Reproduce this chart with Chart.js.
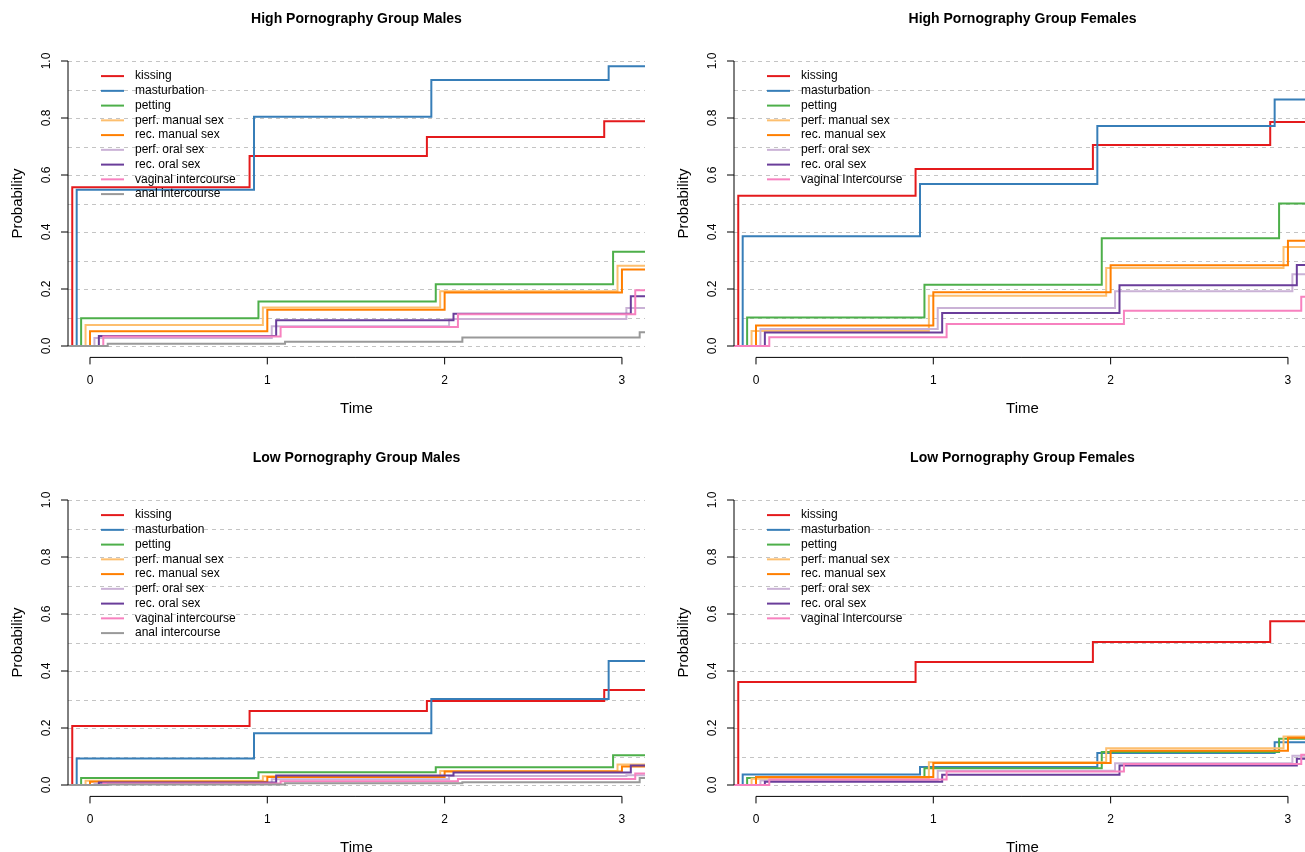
<!DOCTYPE html>
<html><head><meta charset="utf-8">
<script src="https://cdn.jsdelivr.net/npm/chart.js@4.4.1/dist/chart.umd.min.js"></script>
<style>
html,body{margin:0;padding:0;background:#fff;overflow:hidden;width:1305px;height:852px;}
.panel{position:absolute;width:666px;height:439px;}
canvas{display:block;}
</style></head><body>
<div class="panel" style="left:0;top:0"><canvas id="c0" width="666" height="439"></canvas></div>
<div class="panel" style="left:666px;top:0"><canvas id="c1" width="666" height="439"></canvas></div>
<div class="panel" style="left:0;top:439px"><canvas id="c2" width="666" height="439"></canvas></div>
<div class="panel" style="left:666px;top:439px"><canvas id="c3" width="666" height="439"></canvas></div>
<script>
// ---- data ----
const panelTitles = ["High Pornography Group Males","High Pornography Group Females","Low Pornography Group Males","Low Pornography Group Females"];
const maleLabels = ["kissing","masturbation","petting","perf. manual sex","rec. manual sex","perf. oral sex","rec. oral sex","vaginal intercourse","anal intercourse"];
const femaleLabels = ["kissing","masturbation","petting","perf. manual sex","rec. manual sex","perf. oral sex","rec. oral sex","vaginal Intercourse"];
const seriesColors = ["#E41A1C","#377EB8","#4DAF4A","#FDBF6F","#FF7F00","#CAB2D6","#6A3D9A","#F781BF","#999999"];
const timePoints = [0,1,2,3];
const seriesOffsets = [-0.1,-0.075,-0.05,-0.025,0,0.025,0.05,0.075,0.1];
const xTicks = [0,1,2,3];
const yTicks = [0,0.2,0.4,0.6,0.8,1.0];
const yTickLabels = ["0.0","0.2","0.4","0.6","0.8","1.0"];
const gridLevels = [0,0.1,0.2,0.3,0.4,0.5,0.6,0.7,0.8,0.9,1.0];
const xMin = -0.124, xMax = 3.13, yMin = -0.04, yMax = 1.04;

const highMales = [
  [0.557,0.667,0.733,0.789],
  [0.548,0.804,0.933,0.982],
  [0.097,0.156,0.217,0.331],
  [0.074,0.135,0.192,0.282],
  [0.052,0.127,0.188,0.268],
  [0.028,0.069,0.095,0.133],
  [0.035,0.090,0.113,0.175],
  [0.033,0.067,0.111,0.196],
  [0.008,0.015,0.030,0.048]
];
const highFemales = [
  [0.527,0.621,0.705,0.786],
  [0.385,0.568,0.772,0.865],
  [0.100,0.215,0.378,0.500],
  [0.053,0.176,0.274,0.347],
  [0.072,0.189,0.283,0.369],
  [0.060,0.133,0.192,0.252],
  [0.047,0.116,0.213,0.284],
  [0.031,0.077,0.124,0.173]
];
const lowMales = [
  [0.207,0.260,0.295,0.333],
  [0.093,0.182,0.302,0.435],
  [0.025,0.045,0.062,0.104],
  [0.015,0.031,0.049,0.072],
  [0.011,0.028,0.047,0.065],
  [0.005,0.020,0.032,0.034],
  [0.009,0.033,0.044,0.068],
  [0.005,0.013,0.021,0.040],
  [0.002,0.006,0.010,0.025]
];
const lowFemales = [
  [0.361,0.432,0.502,0.575],
  [0.037,0.063,0.112,0.150],
  [0.025,0.059,0.116,0.162],
  [0.022,0.080,0.129,0.170],
  [0.028,0.077,0.120,0.166],
  [0.016,0.050,0.076,0.103],
  [0.011,0.036,0.068,0.092],
  [0.019,0.047,0.074,0.106]
];

const FONT = '"Liberation Sans", Arial, Helvetica, sans-serif';

const rStyle = {
  id: 'rStyle',
  beforeDatasetsDraw(chart) {
    const {ctx, chartArea: a, scales: {y}} = chart;
    ctx.save();
    ctx.strokeStyle = '#c4c4c4'; ctx.lineWidth = 1; ctx.setLineDash([4,4]);
    for (const g of gridLevels) {
      const p = Math.round(y.getPixelForValue(g)) + 0.5;
      ctx.beginPath(); ctx.moveTo(a.left, p); ctx.lineTo(a.right, p); ctx.stroke();
    }
    ctx.restore();
  },
  afterDraw(chart, args, opts) {
    const {ctx, chartArea: a, scales: {x, y}} = chart;
    ctx.save();
    ctx.setLineDash([]);
    ctx.strokeStyle = '#000'; ctx.fillStyle = '#000'; ctx.lineWidth = 1;
    // y axis
    ctx.beginPath();
    ctx.moveTo(a.left, y.getPixelForValue(yTicks[0]));
    ctx.lineTo(a.left, y.getPixelForValue(yTicks[yTicks.length-1]));
    for (const v of yTicks) { const p = y.getPixelForValue(v); ctx.moveTo(a.left, p); ctx.lineTo(a.left-7, p); }
    // x axis
    const xb = a.bottom;
    ctx.moveTo(x.getPixelForValue(xTicks[0]), xb);
    ctx.lineTo(x.getPixelForValue(xTicks[xTicks.length-1]), xb);
    for (const v of xTicks) { const p = x.getPixelForValue(v); ctx.moveTo(p, xb); ctx.lineTo(p, xb+7); }
    ctx.stroke();
    ctx.font = '12px ' + FONT; ctx.textAlign = 'center'; ctx.textBaseline = 'middle';
    yTicks.forEach((v, i) => {
      const p = y.getPixelForValue(v);
      ctx.save(); ctx.translate(a.left-21, p); ctx.rotate(-Math.PI/2); ctx.fillText(yTickLabels[i], 0, 0); ctx.restore();
    });
    xTicks.forEach(v => ctx.fillText(String(v), x.getPixelForValue(v), xb+23));
    // axis titles
    ctx.font = '15px ' + FONT;
    const cx = (a.left + a.right) / 2;
    ctx.fillText('Time', cx, xb + 51);
    ctx.save(); ctx.translate(a.left-50, (a.top + a.bottom)/2); ctx.rotate(-Math.PI/2); ctx.fillText('Probability', 0, 0); ctx.restore();
    // title
    ctx.font = 'bold 14px ' + FONT;
    ctx.fillText(opts.title, cx, a.top - 30.5);
    // legend
    ctx.font = '12px ' + FONT; ctx.textAlign = 'left';
    chart.data.datasets.forEach((ds, i) => {
      const ry = a.top + 26.5 + i * 14.75;
      ctx.strokeStyle = ds.borderColor; ctx.lineWidth = 2;
      ctx.beginPath(); ctx.moveTo(a.left+33, ry); ctx.lineTo(a.left+56, ry); ctx.stroke();
      ctx.fillStyle = '#000';
      ctx.fillText(ds.label, a.left+67, ry);
    });
    ctx.restore();
  }
};

function buildDatasets(values, labels) {
  return values.map((vals, i) => {
    const pts = [{x: xMin, y: 0}];
    timePoints.forEach((t, k) => pts.push({x: t + seriesOffsets[i], y: vals[k]}));
    pts.push({x: xMax, y: vals[vals.length-1]});
    return {
      label: labels[i], data: pts, borderColor: seriesColors[i], backgroundColor: seriesColors[i],
      borderWidth: 2, pointRadius: 0, stepped: 'before', fill: false, tension: 0,
      order: values.length - 1 - i, clip: 0
    };
  });
}

function makeChart(id, values, labels, title) {
  return new Chart(document.getElementById(id), {
    type: 'line',
    data: { datasets: buildDatasets(values, labels) },
    options: {
      responsive: false, animation: false, devicePixelRatio: 1,
      layout: { autoPadding: false, padding: { left: 68, right: 21, top: 49.6, bottom: 81.6 } },
      scales: {
        x: { type: 'linear', min: xMin, max: xMax, display: false },
        y: { type: 'linear', min: yMin, max: yMax, display: false }
      },
      plugins: { legend: { display: false }, tooltip: { enabled: false }, rStyle: { title } }
    },
    plugins: [rStyle]
  });
}

makeChart('c0', highMales, maleLabels, panelTitles[0]);
makeChart('c1', highFemales, femaleLabels, panelTitles[1]);
makeChart('c2', lowMales, maleLabels, panelTitles[2]);
makeChart('c3', lowFemales, femaleLabels, panelTitles[3]);
</script>
</body></html>
